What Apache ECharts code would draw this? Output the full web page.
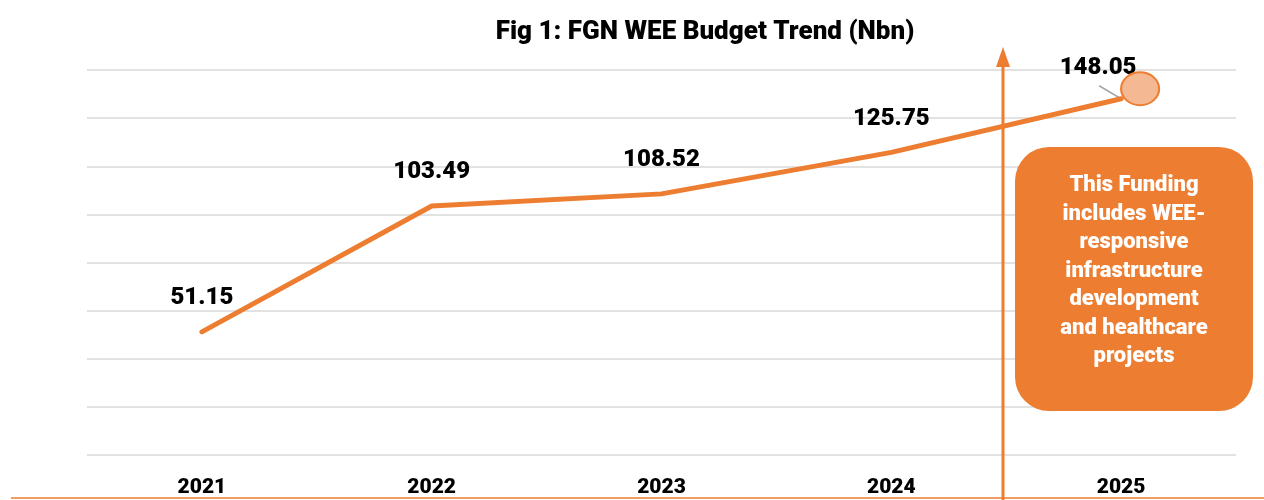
<!DOCTYPE html>
<html>
<head>
<meta charset="utf-8">
<script src="https://cdn.jsdelivr.net/npm/echarts@6/dist/echarts.min.js"></script>
<style>
html,body{margin:0;padding:0;background:#fff;}
#chart{width:1264px;height:500px;}
</style>
</head>
<body>
<div id="chart"></div>
<script>
const titleText = 'Fig 1: FGN WEE Budget Trend (Nbn)';
const years = ['2021', '2022', '2023', '2024', '2025'];
const budget = [51.15, 103.49, 108.52, 125.75, 148.05];
const noteText = 'This Funding\nincludes WEE-\nresponsive\ninfrastructure\ndevelopment\nand healthcare\nprojects';

const ORANGE = '#ED7D31';
const FONT = 'Roboto, "Liberation Sans", sans-serif';

const chart = echarts.init(document.getElementById('chart'));

const seriesData = budget.map((v, i) => {
  const d = { value: v };
  if (i === budget.length - 1) {
    d.label = { offset: [-23, 3] };
  }
  return d;
});

chart.setOption({
  animation: false,
  backgroundColor: '#ffffff',
  title: {
    text: titleText,
    left: 700,
    top: 14,
    textAlign: 'center',
    textStyle: { fontFamily: FONT, fontWeight: 900, fontSize: 26, color: '#000' }
  },
  grid: { left: 87, right: 28, top: 70, bottom: 45 },
  xAxis: {
    type: 'category',
    data: years,
    boundaryGap: true,
    axisLine: { show: false },
    axisTick: { show: false },
    axisLabel: { margin: 22, fontFamily: FONT, fontWeight: 900, fontSize: 21, color: '#000' }
  },
  yAxis: {
    type: 'value',
    min: 0, max: 160, interval: 20,
    axisLine: { show: false },
    axisTick: { show: false },
    axisLabel: { show: false },
    splitLine: { lineStyle: { color: '#D9D9D9', width: 1.5 } }
  },
  series: [{
    type: 'line',
    data: seriesData,
    symbol: 'circle',
    symbolSize: 1,
    itemStyle: { color: ORANGE },
    lineStyle: { color: ORANGE, width: 5, cap: 'round' },
    label: {
      show: true, position: 'top', distance: 21,
      fontFamily: FONT, fontWeight: 900, fontSize: 24, color: '#000'
    },
    markPoint: {
      silent: true,
      symbol: 'circle',
      symbolSize: [38, 33],
      symbolOffset: [19, -10],
      itemStyle: { color: '#F4B993', borderColor: ORANGE, borderWidth: 2 },
      label: { show: false },
      data: [{ coord: [years[4], budget[4]] }]
    },
    z: 3
  }]
});

const p = chart.convertToPixel({ gridIndex: 0 }, [years[4], budget[4]]);

chart.setOption({
  graphic: [
    { type: 'line', z: 2, shape: { x1: p[0] - 22, y1: p[1] - 13, x2: p[0], y2: p[1] }, style: { stroke: '#A6A6A6', lineWidth: 1.5 } },
    { type: 'line', z: 1, shape: { x1: 1003, y1: 500, x2: 1003, y2: 62 }, style: { stroke: ORANGE, lineWidth: 3 } },
    { type: 'polygon', z: 1, shape: { points: [[996, 67], [1010, 67], [1003, 47]] }, style: { fill: ORANGE } },
    { type: 'line', z: 1, shape: { x1: 11, y1: 498, x2: 1264, y2: 498 }, style: { stroke: ORANGE, lineWidth: 1.5 } },
    { type: 'rect', z: 4, shape: { x: 1015, y: 147, width: 238, height: 264, r: 34 }, style: { fill: ORANGE } },
    { type: 'text', z: 5, style: {
        text: noteText, x: 1134, y: 271, align: 'center', verticalAlign: 'middle',
        fill: '#fff', font: '900 22px ' + FONT, lineHeight: 28.5
      } }
  ]
});
</script>
</body>
</html>
